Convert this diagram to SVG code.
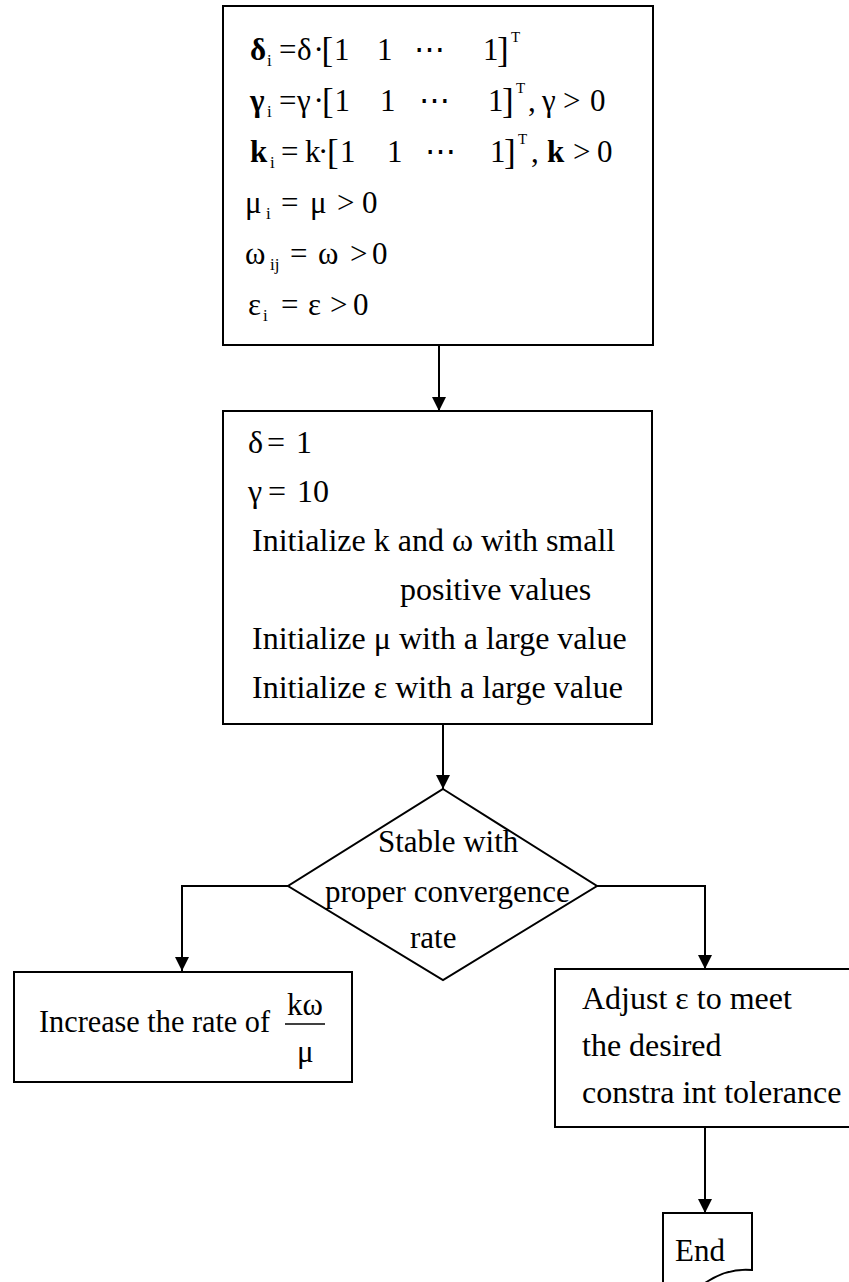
<svg xmlns="http://www.w3.org/2000/svg" width="849" height="1282" viewBox="0 0 849 1282">
<style>
text{font-family:"Liberation Serif","DejaVu Serif",serif;font-size:31px;fill:#000}
.b{font-weight:bold}
.s{font-size:17px}
.sup{font-size:15px}
.br{font-size:35px}
.l{font-size:32px}
.box{fill:#fff;stroke:#000;stroke-width:2}
.ln{fill:none;stroke:#000;stroke-width:2}
</style>
<defs>
<marker id="ah" viewBox="0 0 14 16" refX="14" refY="8" markerWidth="14" markerHeight="16" markerUnits="userSpaceOnUse" orient="auto">
<path d="M0,1 L14,8 L0,15 Z" fill="#000"/>
</marker>
</defs>
<rect width="849" height="1282" fill="#fff"/>

<g id="connectors">
<path class="ln" d="M439,345 V411" marker-end="url(#ah)"/>
<path class="ln" d="M443,724 V789" marker-end="url(#ah)"/>
<path class="ln" d="M288,886 H182 V971" marker-end="url(#ah)"/>
<path class="ln" d="M597,886 H705 V969" marker-end="url(#ah)"/>
<path class="ln" d="M705,1127 V1213" marker-end="url(#ah)"/>
</g>

<g id="node-params">
<rect class="box" x="223" y="6" width="430" height="339"/>
<text><tspan x="250" y="60" class="b">δ</tspan><tspan x="267" y="66" class="s">i</tspan><tspan x="279" y="60">=</tspan><tspan x="297" y="60">δ</tspan><tspan x="313.5" y="60">·</tspan><tspan x="321.5" y="62" class="br">[</tspan><tspan x="334" y="60">1</tspan><tspan x="377" y="60">1</tspan><tspan x="414" y="60">⋯</tspan><tspan x="483" y="60">1</tspan><tspan x="497" y="62" class="br">]</tspan><tspan x="511" y="42" class="sup">T</tspan></text>
<text><tspan x="250" y="111" class="b">γ</tspan><tspan x="267" y="117" class="s">i</tspan><tspan x="279" y="111">=</tspan><tspan x="297" y="111">γ</tspan><tspan x="313.5" y="111">·</tspan><tspan x="322" y="113" class="br">[</tspan><tspan x="334.5" y="111">1</tspan><tspan x="380" y="111">1</tspan><tspan x="419" y="111">⋯</tspan><tspan x="488" y="111">1</tspan><tspan x="502" y="113" class="br">]</tspan><tspan x="516" y="93" class="sup">T</tspan><tspan x="528" y="111">,</tspan><tspan x="542" y="111">γ</tspan><tspan x="563" y="111">&gt;</tspan><tspan x="590" y="111">0</tspan></text>
<text><tspan x="250" y="162" class="b">k</tspan><tspan x="270" y="168" class="s">i</tspan><tspan x="281" y="162">=</tspan><tspan x="305" y="162">k</tspan><tspan x="318" y="162">·</tspan><tspan x="327" y="164" class="br">[</tspan><tspan x="340" y="162">1</tspan><tspan x="387" y="162">1</tspan><tspan x="425" y="162">⋯</tspan><tspan x="490" y="162">1</tspan><tspan x="504" y="164" class="br">]</tspan><tspan x="518" y="144" class="sup">T</tspan><tspan x="531" y="162">,</tspan><tspan x="547" y="162" class="b">k</tspan><tspan x="573" y="162">&gt;</tspan><tspan x="597" y="162">0</tspan></text>
<text><tspan x="245" y="213">μ</tspan><tspan x="266" y="219" class="s">i</tspan><tspan x="281" y="213">=</tspan><tspan x="310" y="213">μ</tspan><tspan x="337" y="213">&gt;</tspan><tspan x="362" y="213">0</tspan></text>
<text><tspan x="245" y="264">ω</tspan><tspan x="270" y="270" class="s">ij</tspan><tspan x="290" y="264">=</tspan><tspan x="318" y="264">ω</tspan><tspan x="350" y="264">&gt;</tspan><tspan x="372" y="264">0</tspan></text>
<text><tspan x="248" y="315">ε</tspan><tspan x="263" y="321" class="s">i</tspan><tspan x="281" y="315">=</tspan><tspan x="308" y="315">ε</tspan><tspan x="330" y="315">&gt;</tspan><tspan x="353" y="315">0</tspan></text>
</g>

<g id="node-init">
<rect class="box" x="223" y="411" width="429" height="313"/>
<text class="l"><tspan x="248" y="453">δ</tspan><tspan x="267" y="453">=</tspan><tspan x="296" y="453">1</tspan></text>
<text class="l"><tspan x="248" y="502">γ</tspan><tspan x="268" y="502">=</tspan><tspan x="297" y="502">10</tspan></text>
<text class="l" x="252" y="551">Initialize k and ω with small</text>
<text class="l" x="400" y="600">positive values</text>
<text class="l" x="252" y="649">Initialize μ with a large value</text>
<text class="l" x="252" y="698">Initialize ε with a large value</text>
</g>

<g id="node-decision">
<polygon class="box" points="443,789 597,886 443,980 288,886"/>
<text x="378" y="852">Stable with</text>
<text x="325" y="902">proper convergence</text>
<text x="410" y="948">rate</text>
</g>

<g id="node-increase">
<rect class="box" x="14" y="972" width="338" height="110"/>
<text x="39" y="1032" textLength="231" lengthAdjust="spacingAndGlyphs">Increase the rate of</text>
<text x="287" y="1015">kω</text>
<line x1="285" y1="1024" x2="325" y2="1024" stroke="#000" stroke-width="1.5"/>
<text x="297" y="1062">μ</text>
</g>

<g id="node-adjust">
<rect class="box" x="555" y="969" width="296" height="158"/>
<text class="l" x="582" y="1009">Adjust ε to meet</text>
<text class="l" x="582" y="1056">the desired</text>
<text class="l" x="582" y="1103">constra int tolerance</text>
</g>

<g id="node-end">
<path class="box" d="M663,1290 V1213 H752 V1270 C732,1268 712,1276 696,1290"/>
<text x="675" y="1261">End</text>
</g>
</svg>
